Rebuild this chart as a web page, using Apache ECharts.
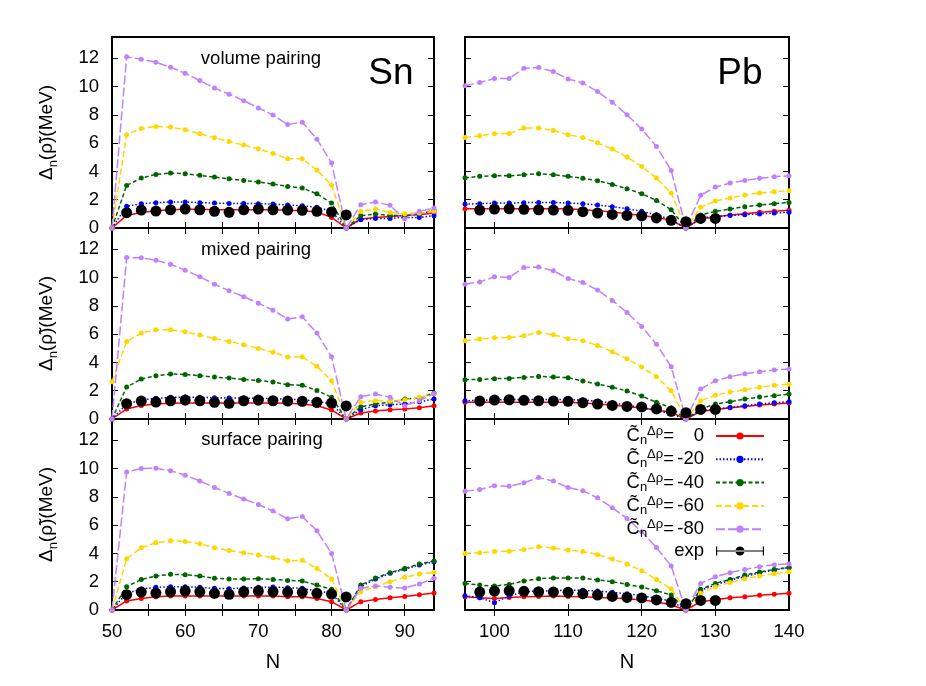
<!DOCTYPE html>
<html>
<head>
<meta charset="utf-8">
<title>pairing gaps Sn Pb</title>
<script src="https://cdn.jsdelivr.net/npm/echarts@6/dist/echarts.min.js"></script>
<style>
  html, body { margin: 0; background: #fff; }
  #chart { width: 926px; height: 686px; }
</style>
</head>
<body>
<div id="chart"></div>
<script>
// neutron numbers
const snN = [50, 52, 54, 56, 58, 60, 62, 64, 66, 68, 70, 72, 74, 76, 78, 80, 82, 84, 86, 88, 90, 92, 94];
const pbN = [96, 98, 100, 102, 104, 106, 108, 110, 112, 114, 116, 118, 120, 122, 124, 126, 128, 130, 132, 134, 136, 138, 140];

// Sn, volume pairing
const snVol0 = [0, 0.89, 1.10, 1.22, 1.29, 1.32, 1.32, 1.29, 1.29, 1.29, 1.29, 1.29, 1.25, 1.22, 1.13, 0.75, 0, 0.64, 0.75, 0.82, 0.89, 0.94, 1.06];
const snVol20 = [0, 1.53, 1.72, 1.79, 1.84, 1.84, 1.79, 1.76, 1.74, 1.74, 1.72, 1.69, 1.62, 1.58, 1.46, 1.18, 0, 0.59, 0.68, 0.68, 0.75, 0.75, 0.87];
const snVol40 = [0, 3.01, 3.53, 3.79, 3.88, 3.84, 3.72, 3.60, 3.48, 3.36, 3.25, 3.11, 2.94, 2.82, 2.42, 1.76, 0, 0.87, 0.99, 0.89, 0.87, 1.00, 1.25];
const snVol60 = [0, 6.59, 7.04, 7.18, 7.13, 6.94, 6.66, 6.38, 6.12, 5.86, 5.60, 5.27, 4.89, 4.89, 4.09, 3.04, 0, 1.18, 1.34, 1.10, 1.00, 1.06, 1.18];
const snVol80 = [0, 12.1, 11.93, 11.72, 11.36, 10.94, 10.42, 9.90, 9.46, 9.00, 8.49, 7.98, 7.32, 7.48, 6.28, 4.59, 0, 1.65, 1.84, 1.60, 0.64, 1.18, 1.41];
// Sn, mixed pairing
const snMix0 = [0, 0.71, 0.96, 1.06, 1.11, 1.13, 1.13, 1.13, 1.13, 1.13, 1.13, 1.13, 1.11, 1.06, 0.94, 0.64, 0, 0.42, 0.56, 0.66, 0.71, 0.80, 0.94];
const snMix20 = [0, 1.06, 1.34, 1.46, 1.53, 1.55, 1.53, 1.51, 1.48, 1.48, 1.46, 1.44, 1.39, 1.36, 1.25, 1.06, 0, 0.66, 0.94, 1.01, 1.06, 1.22, 1.41];
const snMix40 = [0, 2.26, 2.82, 3.06, 3.18, 3.15, 3.06, 2.96, 2.89, 2.80, 2.73, 2.61, 2.42, 2.38, 2.02, 1.53, 0, 0.87, 1.06, 1.18, 1.41, 1.48, 1.84];
const snMix60 = [2.64, 5.48, 6.07, 6.31, 6.31, 6.16, 5.93, 5.69, 5.48, 5.25, 4.99, 4.71, 4.38, 4.40, 3.72, 2.71, 0, 1.18, 1.29, 1.25, 1.36, 1.53, 1.76];
const snMix80 = [0, 11.41, 11.39, 11.22, 10.94, 10.52, 10.05, 9.53, 9.06, 8.64, 8.19, 7.69, 7.06, 7.22, 6.07, 4.40, 0, 1.58, 1.76, 1.53, 0.94, 1.29, 1.81];
// Sn, surface pairing
const snSurf0 = [0, 0.64, 0.82, 0.94, 0.99, 0.99, 0.99, 0.99, 0.99, 0.99, 0.99, 0.99, 0.94, 0.94, 0.82, 0.59, 0, 0.59, 0.75, 0.87, 0.96, 1.08, 1.20];
const snSurf20 = [0, 1.18, 1.48, 1.60, 1.65, 1.65, 1.60, 1.53, 1.51, 1.55, 1.60, 1.62, 1.58, 1.53, 1.34, 1.18, 0, 1.65, 2.19, 2.59, 2.89, 3.18, 3.41];
const snSurf40 = [0, 1.65, 2.16, 2.40, 2.52, 2.49, 2.40, 2.24, 2.19, 2.19, 2.21, 2.16, 2.09, 2.05, 1.76, 1.46, 0, 1.76, 2.26, 2.64, 2.94, 3.25, 3.46];
const snSurf60 = [0, 3.62, 4.40, 4.75, 4.89, 4.85, 4.68, 4.40, 4.21, 4.05, 3.88, 3.69, 3.48, 3.51, 2.94, 2.19, 0, 1.29, 1.65, 2.00, 2.31, 2.54, 2.66];
const snSurf80 = [0, 9.76, 10.0, 10.02, 9.84, 9.53, 9.11, 8.66, 8.24, 7.84, 7.46, 6.99, 6.45, 6.61, 5.60, 4.00, 0, 1.53, 1.69, 1.60, 1.55, 1.84, 2.24];

// Pb, volume pairing
const pbVol0 = [1.36, 1.36, 1.36, 1.36, 1.36, 1.36, 1.36, 1.36, 1.29, 1.22, 1.13, 1.01, 0.89, 0.75, 0.54, 0, 0.64, 0.78, 0.92, 1.01, 1.11, 1.18, 1.25];
const pbVol20 = [1.69, 1.72, 1.76, 1.76, 1.79, 1.81, 1.81, 1.76, 1.72, 1.62, 1.51, 1.36, 1.18, 0.94, 0.59, 0, 0.71, 0.82, 0.89, 0.94, 0.99, 1.06, 1.11];
const pbVol40 = [3.55, 3.65, 3.69, 3.69, 3.76, 3.84, 3.76, 3.65, 3.51, 3.34, 3.08, 2.78, 2.42, 1.95, 1.29, 0, 0.92, 1.18, 1.34, 1.51, 1.62, 1.72, 1.81];
const pbVol60 = [6.40, 6.52, 6.66, 6.68, 7.06, 7.06, 6.89, 6.59, 6.40, 6.02, 5.58, 5.01, 4.35, 3.53, 2.47, 0, 1.46, 1.91, 2.12, 2.33, 2.47, 2.56, 2.64];
const pbVol80 = [10.05, 10.28, 10.56, 10.56, 11.29, 11.34, 11.06, 10.54, 10.24, 9.65, 8.89, 8.00, 6.99, 5.76, 4.07, 0, 2.31, 2.89, 3.18, 3.36, 3.51, 3.62, 3.69];
// Pb, mixed pairing
const pbMix0 = [1.18, 1.18, 1.18, 1.18, 1.18, 1.18, 1.18, 1.18, 1.13, 1.06, 0.99, 0.89, 0.78, 0.64, 0.47, 0, 0.54, 0.66, 0.80, 0.89, 0.99, 1.06, 1.13];
const pbMix20 = [1.29, 1.31, 1.36, 1.36, 1.39, 1.36, 1.39, 1.36, 1.34, 1.25, 1.13, 0.99, 0.82, 0.59, 0.35, 0, 0.59, 0.71, 0.82, 0.94, 1.06, 1.15, 1.22];
const pbMix40 = [2.78, 2.80, 2.85, 2.87, 2.94, 3.01, 2.96, 2.92, 2.68, 2.47, 2.24, 1.98, 1.62, 1.18, 0.80, 0, 0.71, 1.06, 1.22, 1.41, 1.55, 1.65, 1.76];
const pbMix60 = [5.53, 5.65, 5.74, 5.76, 5.88, 6.12, 5.95, 5.67, 5.53, 5.20, 4.75, 4.26, 3.67, 2.99, 2.00, 0, 1.29, 1.67, 1.91, 2.07, 2.24, 2.38, 2.45];
const pbMix80 = [9.53, 9.69, 10.05, 10.00, 10.71, 10.75, 10.47, 9.93, 9.65, 9.11, 8.38, 7.53, 6.54, 5.29, 3.69, 0, 2.12, 2.71, 2.99, 3.20, 3.34, 3.46, 3.53];
// Pb, surface pairing
const pbSurf0 = [0.94, 0.87, 0.82, 0.89, 0.94, 0.96, 0.99, 0.96, 0.94, 0.89, 0.85, 0.80, 0.71, 0.59, 0.35, 0, 0.59, 0.73, 0.87, 0.94, 1.04, 1.11, 1.18];
const pbSurf20 = [1.01, 0.87, 0.52, 0.99, 1.29, 1.34, 1.36, 1.41, 1.39, 1.34, 1.25, 1.15, 1.01, 0.82, 0.64, 0, 1.41, 1.76, 2.12, 2.35, 2.64, 2.82, 3.01];
const pbSurf40 = [1.88, 1.76, 1.69, 1.81, 2.05, 2.21, 2.26, 2.26, 2.26, 2.12, 2.00, 1.81, 1.62, 1.36, 1.06, 0, 1.46, 1.88, 2.16, 2.47, 2.68, 2.87, 3.01];
const pbSurf60 = [4.00, 4.05, 4.14, 4.16, 4.28, 4.47, 4.38, 4.24, 4.14, 3.91, 3.60, 3.25, 2.78, 2.16, 1.48, 0, 1.18, 1.65, 1.95, 2.21, 2.40, 2.56, 2.71];
const pbSurf80 = [8.40, 8.52, 8.78, 8.75, 8.99, 9.36, 9.11, 8.66, 8.42, 7.93, 7.22, 6.47, 5.53, 4.42, 3.11, 0, 1.88, 2.35, 2.64, 2.87, 3.06, 3.20, 3.25];

// experiment
const snExpN = [52, 54, 56, 58, 60, 62, 64, 66, 68, 70, 72, 74, 76, 78, 80, 82];
const snExp = [1.08, 1.27, 1.20, 1.29, 1.34, 1.29, 1.18, 1.11, 1.29, 1.34, 1.29, 1.27, 1.25, 1.18, 1.13, 0.92];
const pbExpN = [98, 100, 102, 104, 106, 108, 110, 112, 114, 116, 118, 120, 122, 124, 126, 128, 130];
const pbExp = [1.27, 1.34, 1.36, 1.32, 1.29, 1.27, 1.25, 1.15, 1.06, 0.96, 0.89, 0.85, 0.71, 0.54, 0.45, 0.68, 0.68];

// tick labels
const snTicks = [55, 60, 65, 70, 75, 80, 85, 90];
const snLabels = [50, 60, 70, 80, 90];
const pbTicks = [100, 110, 120, 130];
const pbLabels = [100, 110, 120, 130, 140];
const yTicks = [2, 4, 6, 8, 10, 12];
const yLabels = [0, 2, 4, 6, 8, 10, 12];

const names = ['0', '-20', '-40', '-60', '-80'];
const colors = ['#ff0000', '#0000ff', '#006400', '#ffd700', '#c080ff'];
const dashes = ['solid', [1.5, 2], [4, 2.5], [6, 3], [9, 3]];
const FONT = 'Liberation Sans, Arial, sans-serif';

const cols = [
  { left: 112, width: 322, min: 50, max: 94, ticks: snTicks, labels: snLabels, N: snN, expN: snExpN, exp: snExp },
  { left: 465, width: 324, min: 96, max: 140, ticks: pbTicks, labels: pbLabels, N: pbN, expN: pbExpN, exp: pbExp }
];
const rowTops = [37, 228, 419];
const panelSets = [
  [[snVol0, snVol20, snVol40, snVol60, snVol80], [pbVol0, pbVol20, pbVol40, pbVol60, pbVol80]],
  [[snMix0, snMix20, snMix40, snMix60, snMix80], [pbMix0, pbMix20, pbMix40, pbMix60, pbMix80]],
  [[snSurf0, snSurf20, snSurf40, snSurf60, snSurf80], [pbSurf0, pbSurf20, pbSurf40, pbSurf60, pbSurf80]]
];

const grid = [], xAxis = [], yAxis = [], series = [];
const tick = { inside: true, length: 6, lineStyle: { color: '#000', width: 1 } };

rowTops.forEach((top, r) => {
  cols.forEach((c, ci) => {
    const g = grid.length;
    grid.push({ left: c.left, width: c.width, top: top, height: 191, show: true, borderColor: '#000', borderWidth: 2 });
    const bottomRow = r === 2;
    xAxis.push({
      type: 'value', gridIndex: g, position: 'bottom', min: c.min, max: c.max,
      axisLine: { show: false }, splitLine: { show: false },
      axisTick: Object.assign({ customValues: c.ticks }, tick),
      axisLabel: { show: bottomRow, customValues: c.labels, margin: 12, color: '#000', fontSize: 18.5, fontFamily: FONT },
      name: bottomRow ? 'N' : '', nameLocation: 'middle', nameGap: 42,
      nameTextStyle: { color: '#000', fontSize: 20, fontFamily: FONT }
    });
    xAxis.push({
      type: 'value', gridIndex: g, position: 'top', min: c.min, max: c.max,
      axisLine: { show: false }, splitLine: { show: false },
      axisTick: Object.assign({ customValues: c.ticks }, tick),
      axisLabel: { show: false }
    });
    yAxis.push({
      type: 'value', gridIndex: g, position: 'left', min: 0, max: 13.5,
      axisLine: { show: false }, splitLine: { show: false },
      axisTick: Object.assign({ customValues: yTicks }, tick),
      axisLabel: { show: ci === 0, customValues: yLabels, margin: 13, color: '#000', fontSize: 18.5, fontFamily: FONT },
      name: ci === 0 ? '{d|Δ}{n|n}{d|(ρ\u0303)(MeV)}' : '', nameLocation: 'middle', nameGap: 52,
      nameTextStyle: {
        color: '#000', fontFamily: FONT,
        rich: {
          d: { fontSize: 19, fontFamily: FONT, color: '#000', lineHeight: 26 },
          n: { fontSize: 13, fontFamily: FONT, color: '#000', lineHeight: 26, verticalAlign: 'bottom' }
        }
      }
    });
    yAxis.push({
      type: 'value', gridIndex: g, position: 'right', min: 0, max: 13.5,
      axisLine: { show: false }, splitLine: { show: false },
      axisTick: Object.assign({ customValues: yTicks }, tick),
      axisLabel: { show: false }
    });
    const xi = 2 * g, yi = 2 * g;
    panelSets[r][ci].forEach((vals, k) => {
      series.push({
        name: names[k], type: 'line', xAxisIndex: xi, yAxisIndex: yi,
        data: c.N.map((n, i) => [n, vals[i]]),
        symbol: 'circle', symbolSize: 5, clip: false,
        lineStyle: { color: colors[k], width: 1.5, type: dashes[k] },
        itemStyle: { color: colors[k] },
        emphasis: { disabled: true }
      });
    });
    series.push({
      name: 'exp', type: 'scatter', xAxisIndex: xi, yAxisIndex: yi,
      data: c.expN.map((n, i) => [n, c.exp[i]]),
      symbol: 'circle', symbolSize: 11, itemStyle: { color: '#000', opacity: 1 }, z: 5,
      emphasis: { disabled: true }
    });
  });
});

const expIcon = 'path://M0,0h1.2v9h-1.2z M0,3.9h48v1.2h-48z M46.8,0h1.2v9h-1.2z M19.5,4.5a4.5,4.5 0 1,0 9,0a4.5,4.5 0 1,0 -9,0z';
const txt = { fontSize: 18.5, fontFamily: FONT, color: '#000', lineHeight: 22 };

const option = {
  animation: false,
  backgroundColor: '#fff',
  grid, xAxis, yAxis, series,
  legend: {
    data: names.concat([{ name: 'exp', icon: expIcon, itemStyle: { opacity: 1 } }]),
    orient: 'vertical', right: 161, top: 425, padding: 0, itemGap: 1.3,
    itemWidth: 48, itemHeight: 9, align: 'right', selectedMode: false,
    formatter: name => name === 'exp' ? '{e|exp}' : '{c|C\u0303}{n|n}{s|Δρ}{q|=}{v|' + name + '}',
    textStyle: {
      fontFamily: FONT, color: '#000',
      rich: {
        c: Object.assign({}, txt),
        n: Object.assign({}, txt, { fontSize: 13, verticalAlign: 'bottom' }),
        s: Object.assign({}, txt, { fontSize: 13, verticalAlign: 'top' }),
        q: Object.assign({}, txt),
        v: Object.assign({}, txt, { width: 30, align: 'right', padding: [0, 7, 0, 0] }),
        e: Object.assign({}, txt, { width: 60, align: 'right', padding: [0, 7, 0, 0] })
      }
    }
  },
  graphic: [
    { type: 'text', x: 261, y: 59, style: { text: 'volume pairing', fontSize: 18.5, fontFamily: FONT, fill: '#000', align: 'center', verticalAlign: 'middle' } },
    { type: 'text', x: 256, y: 250, style: { text: 'mixed pairing', fontSize: 18.5, fontFamily: FONT, fill: '#000', align: 'center', verticalAlign: 'middle' } },
    { type: 'text', x: 262, y: 440, style: { text: 'surface pairing', fontSize: 18.5, fontFamily: FONT, fill: '#000', align: 'center', verticalAlign: 'middle' } },
    { type: 'text', x: 391, y: 74, style: { text: 'Sn', fontSize: 37, fontFamily: FONT, fill: '#000', align: 'center', verticalAlign: 'middle' } },
    { type: 'text', x: 740, y: 74, style: { text: 'Pb', fontSize: 37, fontFamily: FONT, fill: '#000', align: 'center', verticalAlign: 'middle' } }
  ]
};

const chart = echarts.init(document.getElementById('chart'));
chart.setOption(option);
</script>
</body>
</html>
